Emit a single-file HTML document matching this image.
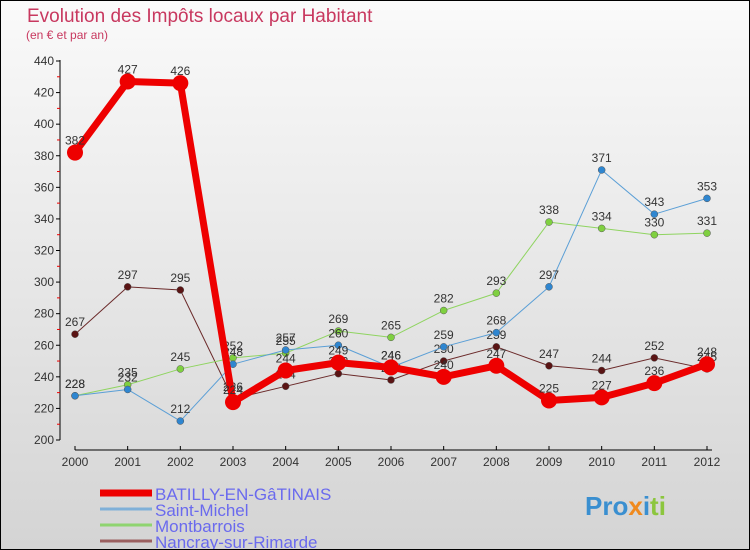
<!DOCTYPE html>
<html><head><meta charset="utf-8"><style>
body{margin:0}
#c{width:750px;height:550px;position:relative;box-sizing:border-box;border:1px solid #000;background:linear-gradient(#fafafa,#d4d4d4);font-family:"Liberation Sans",sans-serif;overflow:hidden}
</style></head><body>
<div id="c">
<svg id="s" width="750" height="550" style="position:absolute;left:-1px;top:-1px">
<text x="27" y="22" font-size="19" fill="#c8385f">Evolution des Impôts locaux par Habitant</text>
<text x="26" y="39" font-size="12" fill="#c8385f">(en € et par an)</text>
<g id="axes"></g><g id="series"></g><g id="legend"></g>
<text x="585" y="515" font-size="26" font-weight="bold"><tspan fill="#3a8fd0">Pro</tspan><tspan fill="#f08a1e">x</tspan><tspan fill="#3a8fd0">i</tspan><tspan fill="#8cc63e">ti</tspan></text>
</svg>
</div>
<script>
const years=[2000,2001,2002,2003,2004,2005,2006,2007,2008,2009,2010,2011,2012];
const yTicks=[200,220,240,260,280,300,320,340,360,380,400,420,440];
const batilly=[382,427,426,224,244,249,246,240,247,225,227,236,248];
const saintMichel=[228,232,212,248,257,260,246,259,268,297,371,343,353];
const montbarrois=[228,235,245,252,255,269,265,282,293,338,334,330,331];
const nancray=[267,297,295,226,234,242,238,250,259,247,244,252,245];
const seriesNames=["BATILLY-EN-GâTINAIS","Saint-Michel","Montbarrois","Nancray-sur-Rimarde"];
const NS="http://www.w3.org/2000/svg";
const X=i=>75+i*(707-75)/(years.length-1);
const Y=v=>440-(v-200)*(440-61)/240;
function mk(t,a,p){const e=document.createElementNS(NS,t);for(const k in a)e.setAttribute(k,a[k]);p.appendChild(e);return e;}
const ax=document.getElementById('axes');
let l=mk('line',{x1:60,y1:60,x2:60,y2:440,stroke:'#000'},ax);


l=mk('line',{x1:75,y1:450,x2:712,y2:450,stroke:'#000'},ax);


yTicks.forEach(v=>{
 mk('line',{x1:56,x2:60,y1:Y(v),y2:Y(v),stroke:'#000'},ax);
 if(v<440)mk('line',{x1:57,x2:60,y1:Y(v+10),y2:Y(v+10),stroke:'#e00'},ax);
 const t=mk('text',{x:54,y:Y(v)+4,'font-size':12,fill:'#333','text-anchor':'end'},ax);t.textContent=v;
 
 
});
years.forEach((y,i)=>{
 mk('line',{x1:X(i),x2:X(i),y1:446,y2:450,stroke:'#000'},ax);
 const t=mk('text',{x:X(i),y:466,'font-size':12,fill:'#333','text-anchor':'middle'},ax);t.textContent=y;
 
 
});
const sg=document.getElementById('series');
const defs=[[nancray,'#6b2a2a','#5a1414',1,3.5,'series-nancray'],[montbarrois,'#8fd460','#7fd040',1,3.5,'series-montbarrois'],[saintMichel,'#5b9fd6','#2f86d0',1,3.5,'series-saint-michel'],[batilly,'#ee0000','#ee0000',7,8,'series-batilly']];
defs.forEach(([d,c,fc,w,r,n])=>{
 const g=mk('g',{},sg);
 
 
 mk('polyline',{points:d.map((v,i)=>X(i)+','+Y(v)).join(' '),fill:'none',stroke:c,'stroke-width':w,'stroke-linejoin':'round'},g);
 d.forEach((v,i)=>{
  const p=mk('circle',{cx:X(i),cy:Y(v),r:r,fill:fc,stroke:w>1?'none':'#555','stroke-width':0.5},g);
  
  
  const t=mk('text',{x:X(i),y:Y(v)-8,'font-size':12,fill:'#333','text-anchor':'middle'},g);t.textContent=v;
  
  
 });
});
const lg=document.getElementById('legend');
const lc=['#ee0000','#7fb0d8','#8fd470','#9b6060'],lw=[7,3,3,3];
seriesNames.forEach((n,i)=>{
 const g=mk('g',{},lg);
 
 
 mk('line',{x1:100,x2:152,y1:493+i*16,y2:493+i*16,stroke:lc[i],'stroke-width':lw[i]},g);
 const t=mk('text',{x:155,y:500+i*16,'font-size':17,fill:'#6a6aee'},g);t.textContent=n;
});
</script>
</body></html>
